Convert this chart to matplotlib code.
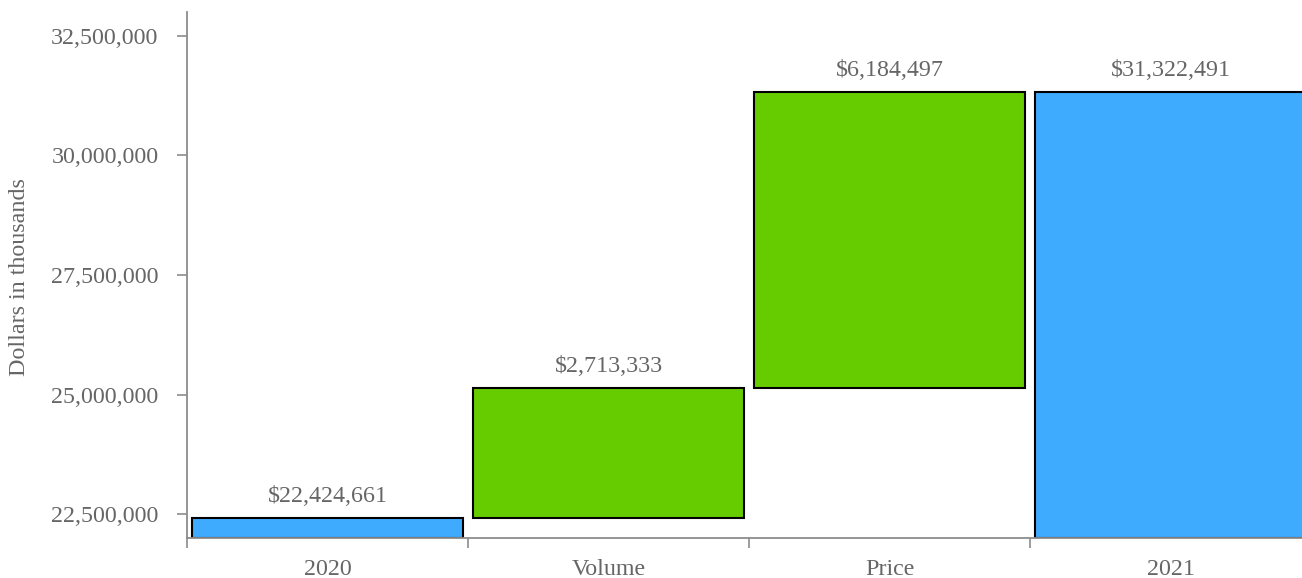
import matplotlib
matplotlib.use("Agg")
import matplotlib.pyplot as plt

categories = ["2020", "Volume", "Price", "2021"]
values = [22424661, 2713333, 6184497, 31322491]
kinds = ["total", "delta", "delta", "total"]
value_labels = ["$22,424,661", "$2,713,333", "$6,184,497", "$31,322,491"]
y_ticks = [22500000, 25000000, 27500000, 30000000, 32500000]
y_min, y_max = 22000000, 33000000

plt.rcParams['font.family'] = ['Liberation Serif', 'DejaVu Serif']
text_color = '#666666'
axis_color = '#8c8c8c'
blue = '#3FABFF'
green = '#66CC00'

fig = plt.figure(figsize=(13.02, 5.78), dpi=100)
W, H = 1302, 578
left_px, right_px, top_px, bottom_px = 187, 1311, 12, 538
ax = fig.add_axes([left_px / W, 1 - bottom_px / H, (right_px - left_px) / W, (bottom_px - top_px) / H])

running = 0
for i, (cat, v, k, lab) in enumerate(zip(categories, values, kinds, value_labels)):
    if k == "total":
        bottom = y_min
        top = v
        running = v
        color = blue
    else:
        bottom = running
        top = running + v
        running = top
        color = green
    ax.bar(i, top - bottom, bottom=bottom, width=0.962, color=color,
           edgecolor='black', linewidth=1.5, zorder=1)
    ax.annotate(lab, xy=(i, top), xytext=(0, 8), textcoords='offset points',
                ha='center', va='bottom', fontsize=17.3, color=text_color)

ax.set_xlim(-0.5, len(categories) - 0.5)
ax.set_ylim(y_min, y_max)

ax.set_yticks(y_ticks)
ax.set_yticklabels([f"{t:,}" for t in y_ticks])
ax.set_xticks([i - 0.5 for i in range(len(categories))])
ax.set_xticklabels([])
ax.set_xticks(range(len(categories)), minor=True)
ax.set_xticklabels(categories, minor=True)

ax.tick_params(axis='y', which='major', length=7.5, width=1.2, color=axis_color,
               labelcolor=text_color, labelsize=17.3, pad=13)
ax.tick_params(axis='x', which='major', length=7.5, width=1.2, color=axis_color)
ax.tick_params(axis='x', which='minor', length=0, labelcolor=text_color,
               labelsize=17.3, pad=15)

for s in ['top', 'right']:
    ax.spines[s].set_visible(False)
for s in ['left', 'bottom']:
    ax.spines[s].set_color(axis_color)
    ax.spines[s].set_linewidth(1.3)

fig.text(20 / W, 1 - 277 / H, "Dollars in thousands", rotation=90, ha='center',
         va='center', fontsize=17.3, color=text_color)

fig.savefig("out.png", dpi=100)
